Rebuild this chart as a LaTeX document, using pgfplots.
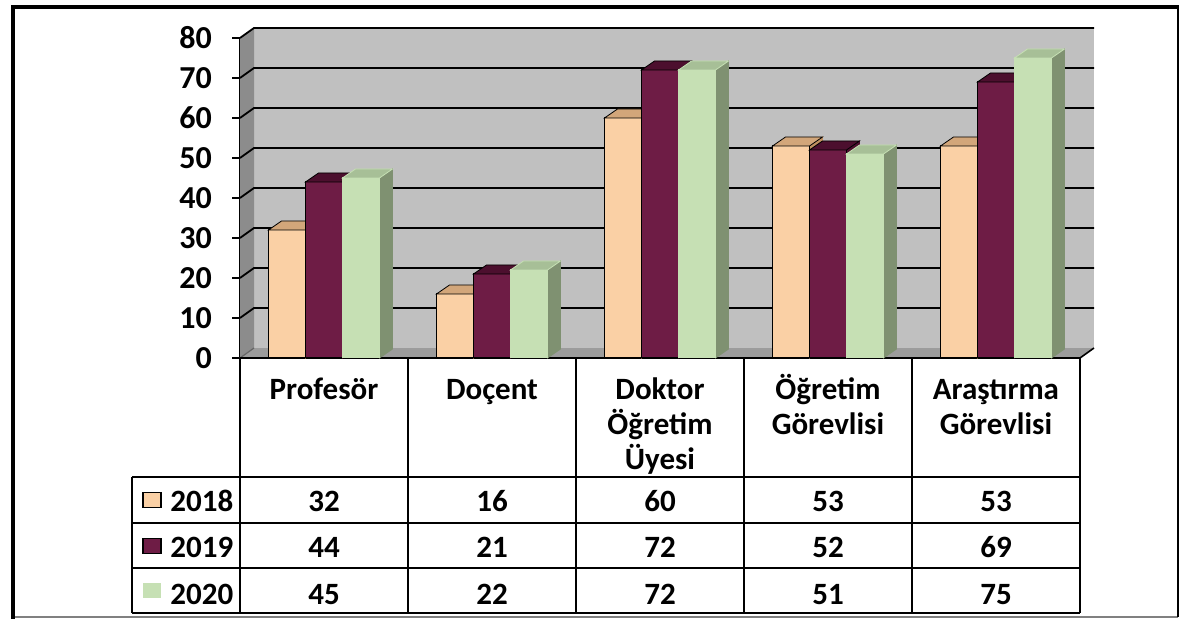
\documentclass[border=0pt]{standalone}
\usepackage{fontspec}
\setmainfont{Carlito}
\usepackage{pgfplots}
\pgfplotsset{compat=1.18}
\definecolor{c18}{HTML}{FAD0A5}
\definecolor{c18t}{HTML}{D2A67A}
\definecolor{c18s}{HTML}{C09060}
\definecolor{c19}{HTML}{6E1C45}
\definecolor{c19t}{HTML}{4C0F2E}
\definecolor{c19s}{HTML}{4C0F2E}
\definecolor{c20}{HTML}{C6E0B4}
\definecolor{c20t}{HTML}{A7BF97}
\definecolor{c20s}{HTML}{7F9171}
\definecolor{wall}{HTML}{C0C0C0}
\definecolor{lwall}{HTML}{8C8C8C}
\definecolor{floorc}{HTML}{9C9C9C}
\pgfdeclareplotmark{emptymark}{}
\pgfplotsset{
  threed/.style n args={4}{scatter, only marks, mark=emptymark,
    visualization depends on={y \as \barv},
    scatter/@pre marker code/.code={%
      \fill[#3] (9.25pt,0pt) -- (15.75pt,4.5pt) -- (15.75pt,{4.5pt-2pt*\barv}) -- (9.25pt,{-2pt*\barv}) -- cycle;
      \filldraw[fill=#1,draw=#4,line width=0.5pt] (-9.25pt,0pt) rectangle (9.25pt,{-2pt*\barv});
      \filldraw[fill=#2,draw=#4,line width=0.4pt] (-9.25pt,0pt) -- (9.25pt,0pt) -- (15.75pt,4.5pt) -- (-2.75pt,4.5pt) -- cycle;
    },
    scatter/@post marker code/.code={}},
  front/.style={ybar, bar width=18.5pt, bar shift=0pt, line width=0.5pt}
}
\newcommand{\tf}{\bfseries\fontsize{15.5}{18}\selectfont}
\begin{document}
\begin{tikzpicture}
\path[use as bounding box] (0,0) rectangle (590.5pt,309.5pt);
\begin{axis}[at={(120pt,130.5pt)}, anchor=south west, scale only axis,
  width=420pt, height=160pt, xmin=-0.5, xmax=4.5, ymin=0, ymax=80,
  clip=false, axis x line=none, axis y line=left,
  y axis line style={-, line width=0.8pt, black},
  ytick={0,10,...,80}, xtick=\empty, tick align=outside, major tick length=4pt,
  ytick style={black, line width=0.8pt},
  yticklabel style={font=\bfseries\fontsize{16}{18}\selectfont, black, xshift=-6.5pt},
  /pgf/number format/assume math mode=true]
% walls
\fill[floorc] (axis cs:-0.5,0) -- (axis cs:4.5,0) -- ([xshift=7pt,yshift=5pt]axis cs:4.5,0) -- ([xshift=7pt,yshift=5pt]axis cs:-0.5,0) -- cycle;
\fill[wall] ([xshift=7pt,yshift=5pt]axis cs:-0.5,0) rectangle ([xshift=7pt,yshift=5pt]axis cs:4.5,80);
\fill[lwall] (axis cs:-0.5,0) -- ([xshift=7pt,yshift=5pt]axis cs:-0.5,0) -- ([xshift=7pt,yshift=5pt]axis cs:-0.5,80) -- (axis cs:-0.5,80) -- cycle;
\pgfplotsinvokeforeach{10,20,...,80}{\draw[black, line width=0.9pt] (axis cs:-0.5,#1) -- ([xshift=7pt,yshift=5pt]axis cs:-0.5,#1) -- ([xshift=7pt,yshift=5pt]axis cs:4.5,#1);}
\draw[black!60, line width=0.6pt] (axis cs:-0.5,0) -- ([xshift=7pt,yshift=5pt]axis cs:-0.5,0);
\draw[black, line width=0.8pt] (axis cs:4.5,0) -- ([xshift=7pt,yshift=5pt]axis cs:4.5,0);
% 2018
\addplot[front, fill=c18, draw=black] coordinates {(-0.2202,32) (0.7798,16) (1.7798,60) (2.7798,53) (3.7798,53)};
\addplot[threed={c18}{c18t}{c18s}{black}] coordinates {(-0.2202,32) (0.7798,16) (1.7798,60) (2.7798,53) (3.7798,53)};
% 2019
\addplot[front, fill=c19, draw=black] coordinates {(0,44) (1,21) (2,72) (3,52) (4,69)};
\addplot[threed={c19}{c19t}{c19s}{black}] coordinates {(0,44) (1,21) (2,72) (3,52) (4,69)};
% 2020
\addplot[front, fill=c20, draw=none] coordinates {(0.2202,45) (1.2202,22) (2.2202,72) (3.2202,51) (4.2202,75)};
\addplot[threed={c20}{c20t}{c20s}{c20}] coordinates {(0.2202,45) (1.2202,22) (2.2202,72) (3.2202,51) (4.2202,75)};
% table
\draw[black, line width=1pt] (axis cs:-0.5,0) -- (axis cs:4.5,0);
\pgfplotsinvokeforeach{-0.5,0.5,1.5,2.5,3.5,4.5}{\draw[black, line width=1pt] (axis cs:#1,0) -- (axis cs:#1,-63.75);}
\pgfplotsinvokeforeach{-29.75,-41.25,-52.5,-63.75}{\draw[black, line width=1pt] (axis cs:-1.1429,#1) -- (axis cs:4.5,#1);}
\draw[black, line width=1pt] (axis cs:-1.1429,-29.75) -- (axis cs:-1.1429,-63.75);
\node[anchor=base, font=\tf] at (axis cs:0,-10.5) {Profesör};
\node[anchor=base, font=\tf] at (axis cs:1,-10.5) {Doçent};
\node[anchor=base, font=\tf] at (axis cs:2,-10.5) {Doktor};
\node[anchor=base, font=\tf] at (axis cs:2,-19.25) {Öğretim};
\node[anchor=base, font=\tf] at (axis cs:2,-28) {Üyesi};
\node[anchor=base, font=\tf] at (axis cs:3,-10.5) {Öğretim};
\node[anchor=base, font=\tf] at (axis cs:3,-19.25) {Görevlisi};
\node[anchor=base, font=\tf] at (axis cs:4,-10.5) {Araştırma};
\node[anchor=base, font=\tf] at (axis cs:4,-19.25) {Görevlisi};
% legend keys
\node[draw=black, fill=c18, minimum width=9pt, minimum height=7.5pt, inner sep=0pt, line width=0.6pt] at (axis cs:-1.0238,-35.5) {};
\node[draw=black, fill=c19, minimum width=9pt, minimum height=7.5pt, inner sep=0pt, line width=0.6pt] at (axis cs:-1.0238,-47) {};
\node[fill=c20, minimum width=9pt, minimum height=7.5pt, inner sep=0pt] at (axis cs:-1.0238,-58.25) {};
\node[anchor=base west, font=\tf, inner sep=0pt] at (axis cs:-0.9167,-38.5) {2018};
\node[anchor=base west, font=\tf, inner sep=0pt] at (axis cs:-0.9167,-50) {2019};
\node[anchor=base west, font=\tf, inner sep=0pt] at (axis cs:-0.9167,-61.75) {2020};
% values
\node[anchor=base, font=\tf] at (axis cs:0,-38.5) {32};
\node[anchor=base, font=\tf] at (axis cs:1,-38.5) {16};
\node[anchor=base, font=\tf] at (axis cs:2,-38.5) {60};
\node[anchor=base, font=\tf] at (axis cs:3,-38.5) {53};
\node[anchor=base, font=\tf] at (axis cs:4,-38.5) {53};
\node[anchor=base, font=\tf] at (axis cs:0,-50) {44};
\node[anchor=base, font=\tf] at (axis cs:1,-50) {21};
\node[anchor=base, font=\tf] at (axis cs:2,-50) {72};
\node[anchor=base, font=\tf] at (axis cs:3,-50) {52};
\node[anchor=base, font=\tf] at (axis cs:4,-50) {69};
\node[anchor=base, font=\tf] at (axis cs:0,-61.75) {45};
\node[anchor=base, font=\tf] at (axis cs:1,-61.75) {22};
\node[anchor=base, font=\tf] at (axis cs:2,-61.75) {72};
\node[anchor=base, font=\tf] at (axis cs:3,-61.75) {51};
\node[anchor=base, font=\tf] at (axis cs:4,-61.75) {75};
\end{axis}
% outer frame
\draw[black!50, line width=0.6pt] (6.25pt,1pt) -- (589pt,1pt);
\draw[black, line width=1pt] (589pt,306pt) -- (589pt,1pt);
\draw[black, line width=2pt] (6.25pt,0pt) -- (6.25pt,306pt) -- (589.5pt,306pt);
\end{tikzpicture}
\end{document}
